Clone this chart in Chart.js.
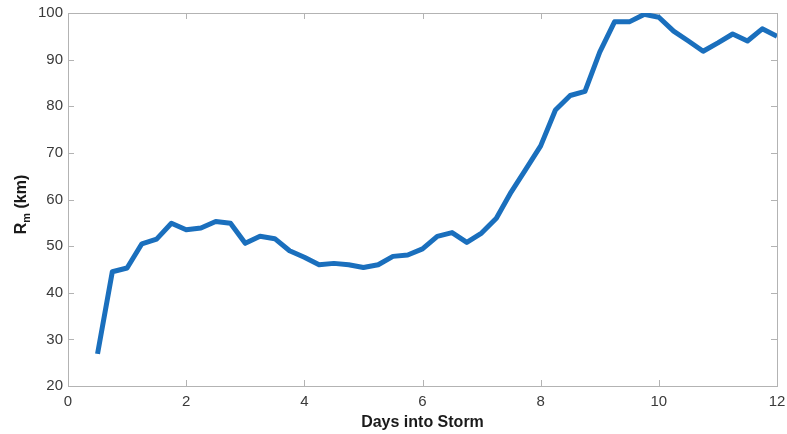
<!DOCTYPE html>
<html>
<head>
<meta charset="utf-8">
<script src="https://cdn.jsdelivr.net/npm/chart.js@4"></script>
<style>
  html, body { margin: 0; padding: 0; background: #fff; }
  #wrap { width: 787px; height: 434px; }
</style>
</head>
<body>
<div id="wrap"><canvas id="rmChart" width="787" height="434"></canvas></div>
<script>
// Radius of maximum wind vs time
const days = [0.5, 0.75, 1, 1.25, 1.5, 1.75, 2, 2.25, 2.5, 2.75, 3, 3.25, 3.5, 3.75, 4,
  4.25, 4.5, 4.75, 5, 5.25, 5.5, 5.75, 6, 6.25, 6.5, 6.75, 7, 7.25, 7.5, 7.75, 8,
  8.25, 8.5, 8.75, 9, 9.25, 9.5, 9.75, 10, 10.25, 10.5, 10.75, 11, 11.25, 11.5, 11.75, 12]
const rm = [26.9, 44.5, 45.3, 50.5, 51.5, 54.9, 53.5, 53.9, 55.3, 54.9, 50.6, 52.1, 51.6, 49.0, 47.6,
  46.0, 46.3, 46.0, 45.4, 46.0, 47.8, 48.1, 49.4, 52.1, 52.9, 50.8, 52.8, 56.0, 61.6, 66.5, 71.5,
  79.2, 82.3, 83.2, 91.6, 98.1, 98.1, 99.7, 99.1, 96.1, 94.0, 91.8, 93.6, 95.5, 94.0, 96.6, 95.0]
const xTicks = [0, 2, 4, 6, 8, 10, 12]
const yTicks = [20, 30, 40, 50, 60, 70, 80, 90, 100]

const FONT = "'Liberation Sans', Arial, sans-serif"
const TEXT = "#3a3a3a"
const BOX = "#b3b3b3"

// MATLAB-like box with inward ticks and the subscripted y title
const boxPlugin = {
  id: "box",
  beforeDatasetsDraw(chart) {
    const { ctx, chartArea: a, scales } = chart
    ctx.save()
    ctx.strokeStyle = BOX
    ctx.lineWidth = 1
    ctx.strokeRect(Math.round(a.left) + 0.5, Math.round(a.top) + 0.5,
      Math.round(a.right - a.left), Math.round(a.bottom - a.top))
    const len = 6
    ctx.beginPath()
    xTicks.forEach((t) => {
      const x = Math.round(scales.x.getPixelForValue(t)) + 0.5
      ctx.moveTo(x, a.bottom); ctx.lineTo(x, a.bottom - len)
      ctx.moveTo(x, a.top); ctx.lineTo(x, a.top + len)
    })
    yTicks.forEach((t) => {
      const y = Math.round(scales.y.getPixelForValue(t)) + 0.5
      ctx.moveTo(a.left, y); ctx.lineTo(a.left + len, y)
      ctx.moveTo(a.right, y); ctx.lineTo(a.right - len, y)
    })
    ctx.stroke()
    ctx.restore()
  },
  afterDraw(chart) {
    const { ctx, chartArea: a } = chart
    ctx.save()
    ctx.translate(26, (a.top + a.bottom) / 2 + 5)
    ctx.rotate(-Math.PI / 2)
    ctx.fillStyle = "#1a1a1a"
    ctx.textBaseline = "alphabetic"
    const parts = [["R", 16, 0], ["m", 11, 4], [" (km)", 16, 0]]
    let total = 0
    parts.forEach((p) => { ctx.font = "bold " + p[1] + "px " + FONT; total += ctx.measureText(p[0]).width })
    let x = -total / 2
    parts.forEach((p) => {
      ctx.font = "bold " + p[1] + "px " + FONT
      ctx.fillText(p[0], x, p[2])
      x += ctx.measureText(p[0]).width
    })
    ctx.restore()
  },
}

const ctx = document.getElementById("rmChart").getContext("2d")
new Chart(ctx, {
  type: "line",
  data: {
    datasets: [
      {
        data: days.map((d, i) => ({ x: d, y: rm[i] })),
        borderColor: "#1a6fbd",
        borderWidth: 5,
        pointRadius: 0,
        tension: 0,
        borderJoinStyle: "round",
        fill: false,
      },
    ],
  },
  options: {
    responsive: false,
    animation: false,
    layout: { padding: { top: 13, right: 10, left: 0, bottom: 0 } },
    plugins: {
      legend: { display: false },
      tooltip: { enabled: false },
    },
    scales: {
      x: {
        type: "linear",
        min: 0,
        max: 12,
        afterBuildTicks: (s) => { s.ticks = xTicks.map((v) => ({ value: v })) },
        afterFit: (s) => { s.height = 48; s.paddingLeft = 0; s.paddingRight = 0 },
        grid: { display: false, drawTicks: false },
        border: { display: false },
        ticks: { color: TEXT, font: { family: FONT, size: 15 }, padding: 7, maxRotation: 0 },
        title: {
          display: true,
          text: "Days into Storm",
          color: "#1a1a1a",
          font: { family: FONT, size: 16, weight: "bold" },
          padding: { top: 2, bottom: 2 },
        },
      },
      y: {
        min: 20,
        max: 100,
        afterBuildTicks: (s) => { s.ticks = yTicks.map((v) => ({ value: v })) },
        afterFit: (s) => { s.width = 68; s.paddingTop = 0; s.paddingBottom = 0 },
        grid: { display: false, drawTicks: false },
        border: { display: false },
        ticks: { color: TEXT, font: { family: FONT, size: 15 }, padding: 5 },
      },
    },
  },
  plugins: [boxPlugin],
})
</script>
</body>
</html>
